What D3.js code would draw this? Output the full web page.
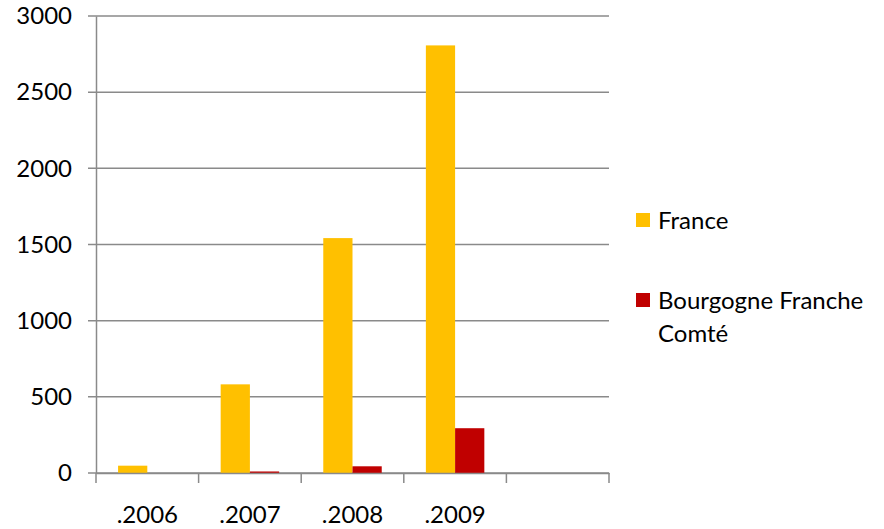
<!DOCTYPE html>
<html>
<head>
<meta charset="utf-8">
<script src="https://cdn.jsdelivr.net/npm/d3@7"></script>
<style>
  body { margin: 0; background: #fff; }
  svg text { font-family: Lato, "Open Sans", sans-serif; fill: #000; }
</style>
</head>
<body>
<div id="chart"></div>
<script>
// Données
const categories = [".2006", ".2007", ".2008", ".2009", " "];
const seriesNames = ["France", "Bourgogne Franche Comté"];
const france = [48, 582, 1542, 2807, 0];
const bourgogne = [0, 10, 44, 294, 0];
const yTicks = [0, 500, 1000, 1500, 2000, 2500, 3000];
const colors = ["#FFC000", "#C00000"];

const width = 884;
const height = 529;
const margin = { left: 96, right: 275, top: 16, bottom: 56 };
const fontSize = "24px";

const svg = d3.select("#chart").append("svg")
  .attr("width", width)
  .attr("height", height);

const x0 = d3.scaleBand()
  .domain(categories)
  .range([margin.left, width - margin.right]);

const x1 = d3.scaleBand()
  .domain(seriesNames)
  .range([0, x0.bandwidth()])
  .paddingInner(0)
  .paddingOuter(0.755);

const y = d3.scaleLinear()
  .domain([0, 3000])
  .range([height - margin.bottom, margin.top]);

// grille horizontale
svg.append("g")
  .selectAll("line")
  .data(yTicks)
  .join("line")
  .attr("x1", margin.left - 8)
  .attr("x2", width - margin.right)
  .attr("y1", d => y(d))
  .attr("y2", d => y(d))
  .attr("stroke", "#8a8a8a")
  .attr("stroke-width", 1.5);

// axe y
const yAxis = svg.append("g")
  .attr("transform", `translate(${margin.left},0)`)
  .call(d3.axisLeft(y).tickValues(yTicks).tickSize(0).tickPadding(24).tickFormat(d3.format("d")));
yAxis.select(".domain").attr("stroke", "#8a8a8a").attr("stroke-width", 1.5);
yAxis.selectAll("text").style("font-size", fontSize).style("font-family", "Lato, sans-serif");

// barres
const groups = svg.append("g")
  .selectAll("g")
  .data(categories)
  .join("g")
  .attr("transform", d => `translate(${x0(d)},0)`);

const allSeries = [france, bourgogne];
groups.selectAll("rect")
  .data((d, i) => seriesNames.map((s, j) => ({ s: s, v: allSeries[j][i], c: colors[j] })))
  .join("rect")
  .attr("x", d => x1(d.s))
  .attr("width", x1.bandwidth())
  .attr("y", d => y(d.v))
  .attr("height", d => y(0) - y(d.v))
  .attr("fill", d => d.c);

// axe x
const xAxis = svg.append("g")
  .attr("transform", `translate(0,${y(0)})`)
  .call(d3.axisBottom(x0).tickSize(0).tickPadding(33));
xAxis.select(".domain").attr("stroke", "#8a8a8a").attr("stroke-width", 1.5);
xAxis.selectAll("text").style("font-size", fontSize).style("font-family", "Lato, sans-serif");

// traits de graduation entre les catégories
const edges = categories.map(c => x0(c)).concat([x0.range()[1]]);
svg.append("g")
  .selectAll("line")
  .data(edges)
  .join("line")
  .attr("x1", d => d)
  .attr("x2", d => d)
  .attr("y1", y(0))
  .attr("y2", y(0) + 10)
  .attr("stroke", "#8a8a8a")
  .attr("stroke-width", 1.5);

// légende
const legend = [
  { lines: ["France"], top: 213 },
  { lines: ["Bourgogne Franche", "Comté"], top: 293 }
];
legend.forEach((l, i) => {
  svg.append("rect")
    .attr("x", 636).attr("y", l.top)
    .attr("width", 14).attr("height", 14)
    .attr("fill", colors[i]);
  l.lines.forEach((t, k) => {
    svg.append("text")
      .attr("x", 658)
      .attr("y", l.top + 16 + k * 33)
      .style("font-size", fontSize)
      .text(t);
  });
});
</script>
</body>
</html>
